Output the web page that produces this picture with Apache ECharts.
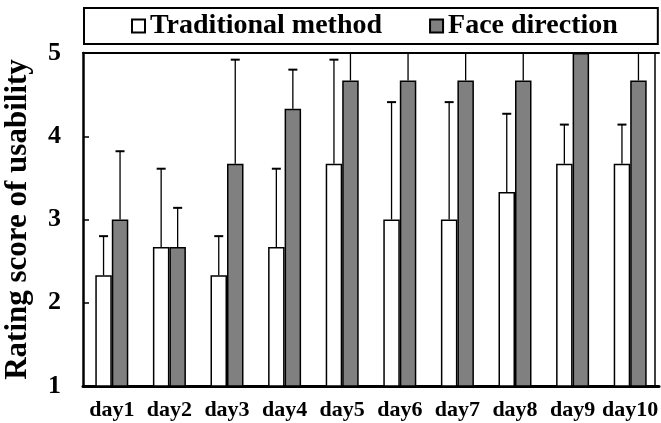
<!DOCTYPE html>
<html>
<head>
<meta charset="utf-8">
<script src="https://cdn.jsdelivr.net/npm/echarts@6/dist/echarts.min.js"></script>
<style>
  html, body { margin: 0; padding: 0; background: #fff; }
  #chart { width: 661px; height: 423px; }
</style>
</head>
<body>
<div id="chart"></div>
<script>
// Usability ratings per day: mean score and standard deviation for each method
const categories = ['day1', 'day2', 'day3', 'day4', 'day5', 'day6', 'day7', 'day8', 'day9', 'day10'];
const traditionalMean = [2.33, 2.67, 2.33, 2.67, 3.67, 3.00, 3.00, 3.33, 3.67, 3.67];
const traditionalSD   = [0.47, 0.94, 0.47, 0.94, 1.25, 1.41, 1.41, 0.94, 0.47, 0.47];
const faceMean        = [3.00, 2.67, 3.67, 4.33, 4.67, 4.67, 4.67, 4.67, 5.00, 4.67];
const faceSD          = [0.82, 0.47, 1.25, 0.47, 0.47, 0.47, 0.47, 0.47, 0.00, 0.47];

const FONT = '"Liberation Serif", "Times New Roman", serif';
const BAR_W = 16.5;

// Upward-only error bars with a cap; clipped at the top of the plot
function errorBars(name, means, sds, side) {
  return {
    name: name + ' SD',
    type: 'custom',
    silent: true,
    z: 5,
    data: means.map((m, i) => [i, m, sds[i]]),
    renderItem(params, api) {
      const i = api.value(0);
      const mean = api.value(1);
      const sd = api.value(2);
      const base = api.coord([i, mean]);
      const tip = api.coord([i, mean + sd]);
      const cs = params.coordSys;
      const x = base[0] + side * BAR_W / 2;
      const clipped = tip[1] < cs.y - 0.5;
      const yTop = Math.max(tip[1], cs.y);
      const children = [{
        type: 'line',
        shape: { x1: x, y1: base[1], x2: x, y2: yTop },
        style: { stroke: '#000', lineWidth: 1.3 }
      }];
      if (!clipped) {
        children.push({
          type: 'line',
          shape: { x1: x - 4.5, y1: yTop, x2: x + 4.5, y2: yTop },
          style: { stroke: '#000', lineWidth: 2 }
        });
      }
      return { type: 'group', children };
    }
  };
}

const chart = echarts.init(document.getElementById('chart'), null, { renderer: 'canvas' });

chart.setOption({
  animation: false,
  backgroundColor: '#fff',
  textStyle: { fontFamily: FONT },
  legend: {
    left: 84,
    top: 8,
    padding: [4, 40, 4, 47],
    borderColor: '#000',
    borderWidth: 2,
    itemWidth: 13,
    itemHeight: 13,
    itemGap: 47,
    icon: 'rect',
    data: ['Traditional method', 'Face direction'],
    textStyle: { fontFamily: FONT, fontWeight: 'bold', fontSize: 28, color: '#000' }
  },
  grid: { left: 83, right: 2, top: 53, bottom: 37, outerBoundsMode: 'none', containLabel: false },
  xAxis: [
    {
      type: 'category',
      data: categories,
      position: 'bottom',
      axisLine: { onZero: false, lineStyle: { color: '#000', width: 3 } },
      axisTick: { inside: true, length: 5, lineStyle: { color: '#000', width: 1.5 } },
      axisLabel: { interval: 0, color: '#000', fontFamily: FONT, fontWeight: 'bold', fontSize: 22, margin: 13 }
    },
    {
      // top edge of the plot frame
      type: 'category',
      data: categories,
      position: 'top',
      axisLine: { onZero: false, lineStyle: { color: '#000', width: 2 } },
      axisTick: { show: false },
      axisLabel: { show: false }
    }
  ],
  yAxis: [
    {
      type: 'value',
      min: 1,
      max: 5,
      interval: 1,
      position: 'left',
      name: 'Rating score of usability',
      nameLocation: 'middle',
      nameGap: 50,
      nameTextStyle: { color: '#000', fontFamily: FONT, fontWeight: 'bold', fontSize: 31 },
      splitLine: { show: false },
      axisLine: { show: true, onZero: false, lineStyle: { color: '#000', width: 2.5 } },
      axisTick: { show: true, inside: true, length: 6, lineStyle: { color: '#000', width: 1.5 } },
      axisLabel: { color: '#000', fontFamily: FONT, fontWeight: 'bold', fontSize: 26, margin: 22 }
    },
    {
      // right edge of the plot frame
      type: 'value',
      min: 1,
      max: 5,
      position: 'right',
      offset: -4,
      splitLine: { show: false },
      axisLine: { show: true, onZero: false, lineStyle: { color: '#000', width: 1.5 } },
      axisTick: { show: false },
      axisLabel: { show: false }
    }
  ],
  series: [
    {
      name: 'Traditional method',
      type: 'bar',
      data: traditionalMean,
      barWidth: BAR_W,
      barGap: '0%',
      itemStyle: { color: '#ffffff', borderColor: '#000', borderWidth: 1.5 }
    },
    {
      name: 'Face direction',
      type: 'bar',
      data: faceMean,
      barWidth: BAR_W,
      barGap: '0%',
      itemStyle: { color: '#808080', borderColor: '#000', borderWidth: 1.5 }
    },
    errorBars('Traditional method', traditionalMean, traditionalSD, -1),
    errorBars('Face direction', faceMean, faceSD, 1)
  ]
});
</script>
</body>
</html>
